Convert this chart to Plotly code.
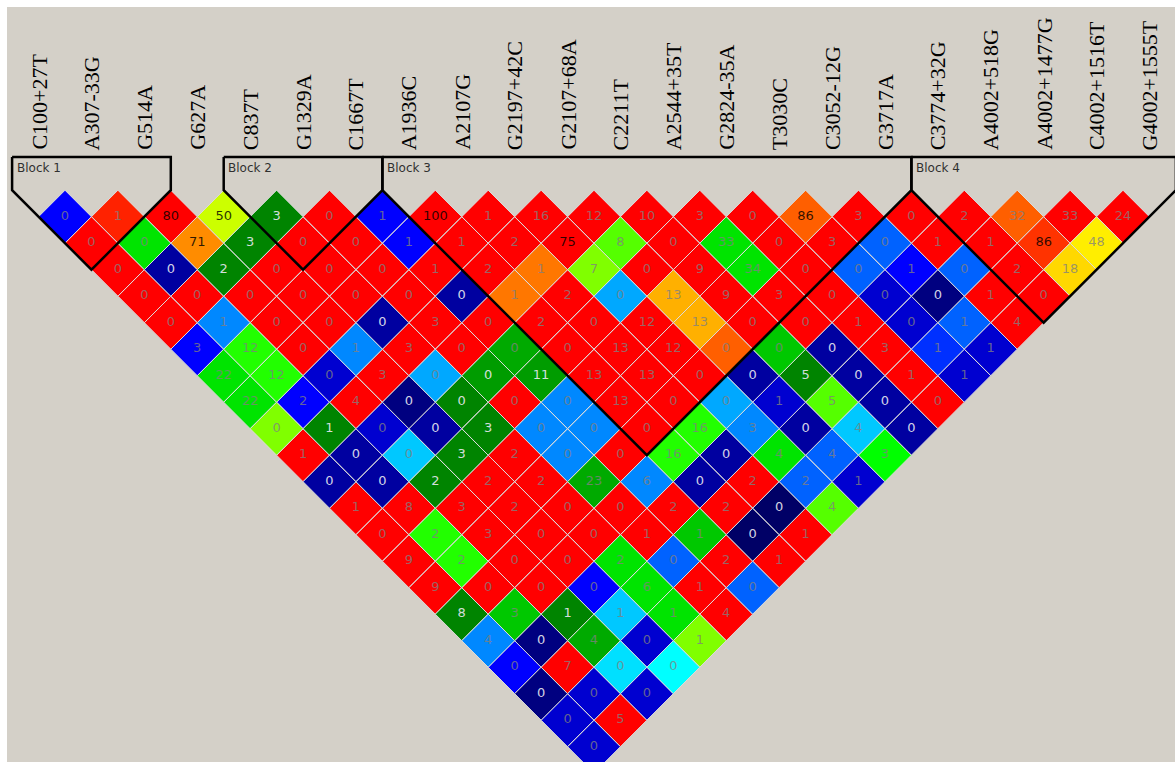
import plotly.graph_objects as go

# ---------------- data ----------------
snps = ["C100+27T", "A307-33G", "G514A", "G627A", "C837T", "G1329A", "C1667T",
        "A1936C", "A2107G", "G2197+42C", "G2107+68A", "C2211T", "A2544+35T",
        "G2824-35A", "T3030C", "C3052-12G", "G3717A", "C3774+32G", "A4002+518G",
        "A4002+1477G", "C4002+1516T", "G4002+1555T"]

# row r holds the pairs (k, k + r + 1) for k = 0 .. len(snps) - r - 2
ld_values = [
    [0, 1, 80, 50, 3, 0, 1, 100, 1, 16, 12, 10, 3, 0, 86, 3, 0, 2, 32, 33, 24],
    [0, 0, 71, 3, 0, 0, 1, 1, 2, 75, 8, 0, 33, 0, 3, 0, 1, 1, 86, 48],
    [0, 0, 2, 0, 0, 0, 1, 2, 1, 7, 0, 9, 34, 0, 0, 1, 0, 2, 18],
    [0, 0, 0, 0, 0, 0, 0, 1, 2, 0, 13, 9, 3, 0, 0, 0, 1, 0],
    [0, 1, 0, 0, 0, 3, 0, 2, 0, 12, 13, 0, 0, 1, 0, 1, 4],
    [3, 12, 0, 1, 3, 0, 0, 0, 13, 12, 0, 0, 0, 3, 1, 1],
    [22, 12, 0, 3, 0, 0, 11, 13, 13, 0, 0, 5, 0, 1, 1],
    [22, 2, 4, 0, 0, 0, 0, 13, 0, 0, 1, 5, 0, 0],
    [0, 1, 0, 0, 3, 0, 0, 0, 16, 3, 0, 4, 0],
    [1, 0, 0, 3, 2, 0, 0, 16, 0, 4, 4, 3],
    [0, 0, 2, 2, 2, 23, 6, 0, 2, 2, 1],
    [1, 8, 3, 2, 0, 0, 2, 2, 0, 4],
    [0, 2, 3, 0, 0, 1, 1, 0, 1],
    [9, 2, 0, 0, 2, 0, 2, 1],
    [9, 0, 0, 0, 6, 1, 0],
    [8, 3, 1, 1, 1, 4],
    [4, 0, 4, 0, 1],
    [0, 7, 0, 0],
    [0, 0, 0],
    [0, 5],
    [0],
]

# colour class of every cell (same layout as ld_values)
ld_classes = [
    "B R1 R YL DG R B R R R R R R R OR R R R OR R R",
    "R G1 O DG R R B R R R YG2 R G1 R R LB2 R R RO Y",
    "R N DG R R R R R O2 YG R R G1 R LB2 B LB2 R GO",
    "R R R R R R N O2 R LC OY R R R B2 ND R R",
    "R LB R R N R R R R R OY R R R B2 LB2 R",
    "B GB R LB R R GD R R R OR G N R B3 B2",
    "G1 GB B2 R LC DG2 DG2 R R R N DG N R B2",
    "G1 B R ND DG R LB R R LC B2 YG2 N R",
    "YG DG B2 N DG LB LB R GB LB N LC2 N",
    "R N LC2 DG R LB R GB N G1 LB2 GB2",
    "N N DG R R GD LB N R LB2 B2",
    "R R R R R R R R ND2 YG2",
    "R GB R R R R G ND2 R",
    "R GB R R G1 LB2 R R",
    "R R R B G1 R LB2",
    "DG G DG LC2 G1 R",
    "LB ND GD B2 YG",
    "B R CY2 CY",
    "ND B2 B2",
    "B2 R",
    "B2",
]

blocks = [("Block 1", 0, 2), ("Block 2", 4, 6), ("Block 3", 7, 16), ("Block 4", 17, 21)]

# ---------------- styles ----------------
palette = {
    "R": "#ff0000", "R1": "#ff2200", "RO": "#ff3300", "OR": "#ff5f00",
    "O": "#ff8c00", "O2": "#ff7700", "OY": "#ffb000", "GO": "#ffd800",
    "Y": "#ffee00", "YL": "#ccff00", "YG": "#80ff00", "YG2": "#55ff00",
    "GB": "#22ff00", "GB2": "#00ff00", "G1": "#00e400", "G": "#00c800",
    "GD": "#00aa00", "DG2": "#009c00", "DG": "#008400",
    "B": "#0000ff", "B3": "#0030ff", "B2": "#0000d0", "N": "#0000a0",
    "ND": "#000080", "ND2": "#000066", "LB": "#0088ff", "LB2": "#0062ff",
    "LC": "#00a8ff", "LC2": "#00c8ff", "CY2": "#00e0ff", "CY": "#00ffff",
}
light_text = {"N", "ND", "ND2", "DG", "DG2"}
BG = "#d4d0c8"

W, H = 1175, 762
ML, MT = 7, 7
PX_X, PX_Y = 52.9, 53.0          # pixels per data unit
SNP0_PX, TOP_PX = 38.55, 190.2   # pixel of first SNP / top of first row

fig = go.Figure()

# ---------------- cells ----------------
polys = {}
tx, ty, tt, tc = [], [], [], []
for r, (vals, cls) in enumerate(zip(ld_values, ld_classes)):
    codes = cls.split()
    for k, (v, code) in enumerate(zip(vals, codes)):
        i, j = k, k + r + 1
        cx, cy = (i + j) / 2, -(j - i) / 2
        xs, ys = polys.setdefault(code, ([], []))
        xs += [cx, cx + 0.5, cx, cx - 0.5, cx, None]
        ys += [cy + 0.5, cy, cy - 0.5, cy, cy + 0.5, None]
        tx.append(cx)
        ty.append(cy)
        tt.append(str(v))
        if v >= 50:
            tc.append("rgba(0,0,0,0.82)")
        elif code in light_text:
            tc.append("rgba(232,232,240,0.92)")
        else:
            tc.append("rgba(128,128,128,0.78)")

for code, (xs, ys) in polys.items():
    fig.add_trace(go.Scatter(
        x=xs, y=ys, mode="lines", fill="toself", fillcolor=palette[code],
        line=dict(color="#dcdcdc", width=1), hoverinfo="skip", showlegend=False))

fig.add_trace(go.Scatter(
    x=tx, y=ty, mode="text", text=tt,
    textfont=dict(family="DejaVu Sans", size=13, color=tc),
    hoverinfo="skip", showlegend=False))

# ---------------- blocks ----------------
top_y = (TOP_PX - 157) / PX_Y
for name, a, b in blocks:
    vx, vy = (a + b) / 2, -(b - a) / 2 - 0.5
    fig.add_trace(go.Scatter(
        x=[a - 0.5, a - 0.5, vx, b + 0.5, b + 0.5, a - 0.5],
        y=[top_y, 0, vy, 0, top_y, top_y],
        mode="lines", line=dict(color="black", width=2.5),
        hoverinfo="skip", showlegend=False))
    fig.add_annotation(
        x=a - 0.5 + 2.5 / PX_X, y=(TOP_PX - 168) / PX_Y, text=name,
        showarrow=False, xanchor="left", yanchor="middle",
        font=dict(family="DejaVu Sans", size=12, color="#303030"))

# ---------------- marker labels ----------------
label_y = (TOP_PX - 152) / PX_Y
for i, name in enumerate(snps):
    fig.add_annotation(
        x=i, y=label_y, text=name, textangle=-90, showarrow=False,
        xanchor="center", yanchor="bottom",
        font=dict(family="Liberation Serif", size=22, color="black"))

x0 = (ML - SNP0_PX) / PX_X
x1 = (W - SNP0_PX) / PX_X
y0 = -(H - TOP_PX) / PX_Y
y1 = (TOP_PX - MT) / PX_Y

fig.update_layout(
    width=W, height=H,
    margin=dict(l=ML, r=0, t=MT, b=0, pad=0),
    paper_bgcolor="white", plot_bgcolor=BG,
    xaxis=dict(range=[x0, x1], visible=False, fixedrange=True),
    yaxis=dict(range=[y0, y1], visible=False, fixedrange=True),
    showlegend=False,
)

fig.write_html("out.html", config={"displayModeBar": False},
               post_script="document.body.style.margin='0';document.body.style.overflow='hidden';")
